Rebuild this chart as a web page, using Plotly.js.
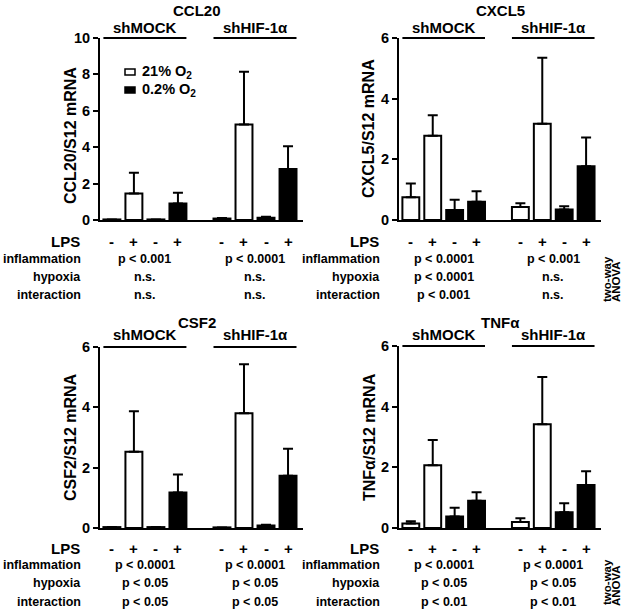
<!DOCTYPE html>
<html>
<head>
<meta charset="utf-8">
<script src="https://cdn.plot.ly/plotly-3.0.1.min.js"></script>
<style>html,body{margin:0;padding:0;background:#fff;}#chart{width:624px;height:616px;}</style>
</head>
<body>
<div id="chart"></div>
<script>
// ---- data ----
const groups = ['shMOCK', 'shHIF-1α'];
const oxygen = ['21% O<sub>2</sub>', '0.2% O<sub>2</sub>'];
const lpsLabels = ['-', '+'];
const genes = ['CCL20', 'CXCL5', 'CSF2', 'TNFα'];
const yTitles = ['CCL20/S12 mRNA', 'CXCL5/S12 mRNA', 'CSF2/S12 mRNA', 'TNFα/S12 mRNA'];
const yMax = [10, 6, 6, 6];
// order per group: 21% LPS-, 21% LPS+, 0.2% LPS-, 0.2% LPS+
const ccl20Mean = [0.03, 1.45, 0.03, 0.90, 0.08, 5.25, 0.12, 2.80];
const ccl20Sem  = [0.00, 1.15, 0.00, 0.60, 0.03, 2.90, 0.06, 1.25];
const cxcl5Mean = [0.75, 2.78, 0.33, 0.60, 0.43, 3.17, 0.35, 1.77];
const cxcl5Sem  = [0.45, 0.67, 0.34, 0.35, 0.12, 2.18, 0.10, 0.95];
const csf2Mean  = [0.03, 2.53, 0.03, 1.18, 0.02, 3.80, 0.08, 1.73];
const csf2Sem   = [0.00, 1.34, 0.00, 0.59, 0.00, 1.63, 0.03, 0.90];
const tnfMean   = [0.15, 2.07, 0.38, 0.90, 0.20, 3.42, 0.52, 1.42];
const tnfSem    = [0.07, 0.83, 0.29, 0.28, 0.12, 1.56, 0.30, 0.45];
const rowNames = ['inflammation', 'hypoxia', 'interaction'];
const ccl20P = [['p < 0.001', 'p < 0.0001'], ['n.s.', 'n.s.'], ['n.s.', 'n.s.']];
const cxcl5P = [['p < 0.0001', 'p < 0.001'], ['p < 0.0001', 'n.s.'], ['p < 0.001', 'n.s.']];
const csf2P  = [['p < 0.0001', 'p < 0.0001'], ['p < 0.05', 'p < 0.05'], ['p < 0.05', 'p < 0.05']];
const tnfP   = [['p < 0.0001', 'p < 0.0001'], ['p < 0.05', 'p < 0.05'], ['p < 0.01', 'p < 0.01']];
const anovaLines = ['two-way', 'ANOVA'];

const means = [ccl20Mean, cxcl5Mean, csf2Mean, tnfMean];
const sems = [ccl20Sem, cxcl5Sem, csf2Sem, tnfSem];
const pvals = [ccl20P, cxcl5P, csf2P, tnfP];

// ---- layout geometry (pixels) ----
const W = 624, H = 616;
const FONT = 'Arial, "Liberation Sans", sans-serif';
const panels = [
  {x0: 100, x1: 303, y0: 38, y1: 220, title: [197, 10], head: 28, ytitle: [71, 136], rows: [242, 259, 277, 295], lab: 83},
  {x0: 399, x1: 601, y0: 38, y1: 220, title: [500, 10], head: 28, ytitle: [369, 129], rows: [242, 259, 277, 295], lab: 382},
  {x0: 100, x1: 303, y0: 347, y1: 528, title: [197, 322], head: 335, ytitle: [70, 437], rows: [548, 565, 583, 602], lab: 83},
  {x0: 399, x1: 601, y0: 346, y1: 528, title: [500, 322], head: 335, ytitle: [369, 437], rows: [548, 565, 583, 602], lab: 382}
];
const anovaY = [[279, 282], [582, 586]];
const px = v => v / W;
const py = v => 1 - v / H;
const BW = 0.77;
const pos = (g, o, l) => g * 5 + o * 2 + l;

const traces = [];
const layout = {
  width: W, height: H, margin: {l: 0, r: 0, t: 0, b: 0},
  paper_bgcolor: '#fff', plot_bgcolor: '#fff', showlegend: false,
  font: {family: FONT, color: '#000', weight: 'bold'},
  barmode: 'overlay', annotations: [], shapes: []
};
const bold = (size) => ({family: FONT, size: size, color: '#000', weight: 'bold'});

panels.forEach((p, k) => {
  const n = k + 1;
  const xa = 'x' + (n === 1 ? '' : n), ya = 'y' + (n === 1 ? '' : n);
  const xk = 'xaxis' + (n === 1 ? '' : n), yk = 'yaxis' + (n === 1 ? '' : n);
  layout[xk] = {domain: [px(p.x0), px(p.x1)], anchor: ya, range: [-0.54, 8.68], showline: true, linewidth: 2,
    linecolor: '#000', ticks: '', showticklabels: false, showgrid: false, zeroline: false, fixedrange: true};
  layout[yk] = {domain: [py(p.y1), py(p.y0)], anchor: xa, range: [0, yMax[k]], dtick: 2, showline: true, linewidth: 2,
    linecolor: '#000', ticks: 'outside', ticklen: 5, tickwidth: 2, tickcolor: '#000', showgrid: false, zeroline: false,
    tickfont: bold(14.5), fixedrange: true};
  // bars, one trace per oxygen level
  oxygen.forEach((ox, o) => {
    const xs = [], ys = [], es = [], em = [];
    groups.forEach((g, gi) => lpsLabels.forEach((l, li) => {
      const idx = gi * 4 + o * 2 + li;
      xs.push(pos(gi, o, li)); ys.push(means[k][idx]); es.push(sems[k][idx]); em.push(0);
    }));
    traces.push({type: 'bar', x: xs, y: ys, width: BW, xaxis: xa, yaxis: ya, name: ox,
      marker: {color: o === 0 ? '#fff' : '#000', line: {color: '#000', width: 2}},
      error_y: {type: 'data', symmetric: false, array: es, arrayminus: em, color: '#000', thickness: 2, width: 5}});
  });
  // titles
  layout.annotations.push({text: genes[k], xref: 'paper', yref: 'paper', x: px(p.title[0]), y: py(p.title[1]),
    showarrow: false, font: bold(15), xanchor: 'center', yanchor: 'middle'});
  layout.annotations.push({text: yTitles[k], xref: 'paper', yref: 'paper', x: px(p.ytitle[0]), y: py(p.ytitle[1]),
    showarrow: false, font: bold(16), textangle: -90, xanchor: 'center', yanchor: 'middle'});
  groups.forEach((g, gi) => {
    const c = pos(gi, 0, 0) + 1.5;
    layout.annotations.push({text: g, xref: xa, yref: 'paper', x: c, y: py(p.head), showarrow: false,
      font: bold(15), xanchor: 'center', yanchor: 'middle'});
    layout.shapes.push({type: 'line', xref: xa, yref: 'paper', x0: pos(gi, 0, 0) - BW / 2, x1: pos(gi, 1, 1) + BW / 2,
      y0: py(p.y0), y1: py(p.y0), line: {color: '#000', width: 2}});
    // LPS signs
    oxygen.forEach((ox, o) => lpsLabels.forEach((l, li) => {
      layout.annotations.push({text: l, xref: xa, yref: 'paper', x: pos(gi, o, li), y: py(p.rows[0]), showarrow: false,
        font: bold(15), xanchor: 'center', yanchor: 'middle'});
    }));
    rowNames.forEach((r, ri) => {
      layout.annotations.push({text: pvals[k][ri][gi], xref: xa, yref: 'paper', x: c, y: py(p.rows[ri + 1]), showarrow: false,
        font: bold(12.5), xanchor: 'center', yanchor: 'middle'});
    });
  });
  layout.annotations.push({text: 'LPS', xref: 'paper', yref: 'paper', x: px(p.lab - 1), y: py(p.rows[0]), showarrow: false,
    font: bold(15), xanchor: 'right', yanchor: 'middle'});
  rowNames.forEach((r, ri) => {
    layout.annotations.push({text: r, xref: 'paper', yref: 'paper', x: px(p.lab), y: py(p.rows[ri + 1]), showarrow: false,
      font: bold(12.5), xanchor: 'right', yanchor: 'middle'});
  });
});

// two-way ANOVA side labels
anovaY.forEach(ys => {
  anovaLines.forEach((t, i) => {
    layout.annotations.push({text: t, xref: 'paper', yref: 'paper', x: px(607 + i * 9), y: py(ys[i]),
      showarrow: false, font: bold(11.5), textangle: -90, xanchor: 'center', yanchor: 'middle'});
  });
});

// legend (panel 1)
const legRows = [72, 90];
oxygen.forEach((ox, o) => {
  layout.shapes.push({type: 'rect', xref: 'paper', yref: 'paper', x0: px(125), x1: px(135),
    y0: py(legRows[o] - 3), y1: py(legRows[o] + 3), fillcolor: o === 0 ? '#fff' : '#000', line: {color: '#000', width: 1.5}});
  layout.annotations.push({text: ox, xref: 'paper', yref: 'paper', x: px(140), y: py(legRows[o]), showarrow: false,
    font: bold(14.5), xanchor: 'left', yanchor: 'middle'});
});

Plotly.newPlot('chart', traces, layout, {staticPlot: true, displayModeBar: false});
</script>
</body>
</html>
